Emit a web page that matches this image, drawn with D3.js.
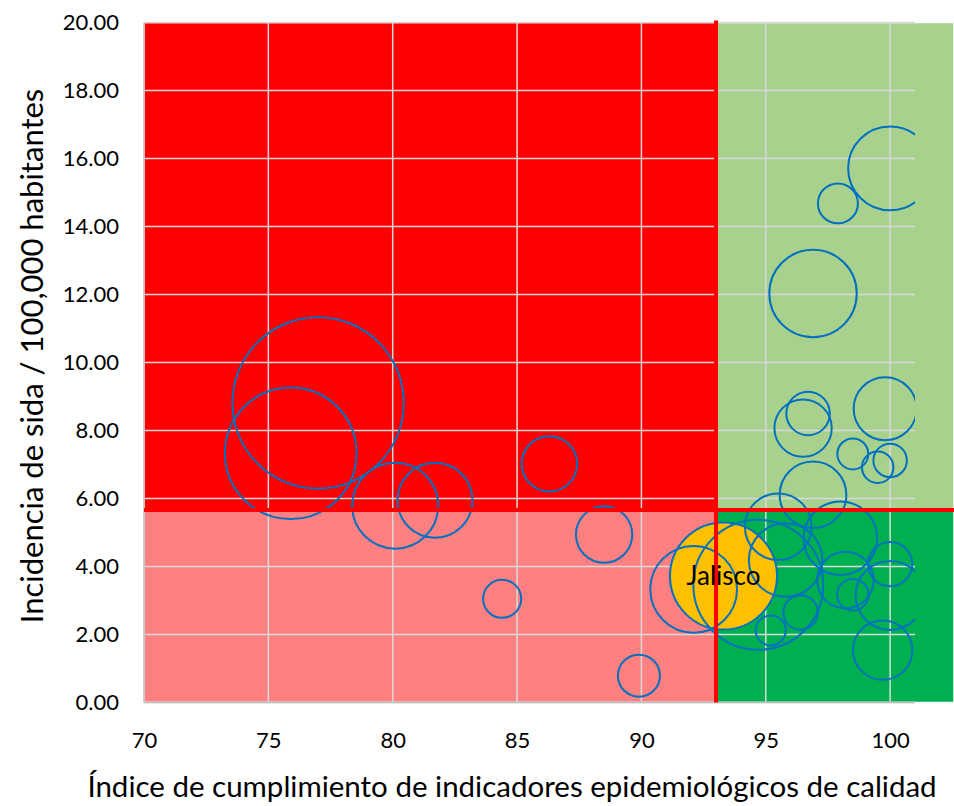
<!DOCTYPE html>
<html>
<head>
<meta charset="utf-8">
<script src="https://cdn.jsdelivr.net/npm/d3@7"></script>
<style>
  body { margin: 0; background: #fff; }
  text { font-family: Lato, "Open Sans", sans-serif; fill: #000; }
</style>
</head>
<body>
<div id="chart"></div>
<script>

// data (one entry per state, Jalisco first)
const estado     = ["Jalisco", "", "", "", "", "", "", "", "", "", "", "", "", "", "", "", "", "", "", "", "", "", "", "", "", "", "", "", "", "", ""];
const indice     = [93.3, 77.0, 75.9, 80.1, 81.7, 86.3, 88.5, 84.4, 89.9, 92.1,
                    100.0, 97.9, 96.9, 99.8, 96.7, 96.5, 98.5, 99.5, 100.0, 96.9,
                    94.7, 95.5, 95.8, 98.0, 98.2, 98.5, 100.0, 100.0, 99.7, 96.4, 95.2];
const incidencia = [3.72, 8.81, 7.33, 5.79, 5.95, 7.02, 4.94, 3.05, 0.79, 3.33,
                    15.71, 14.68, 12.03, 8.64, 8.50, 8.07, 7.31, 6.92, 7.12, 6.11,
                    3.46, 5.17, 4.19, 4.83, 3.60, 3.17, 4.07, 3.15, 1.54, 2.65, 2.12];
const tamano     = [6.24, 16.0, 9.43, 4.03, 3.06, 1.67, 1.73, 0.79, 0.96, 4.10,
                    3.84, 0.87, 4.16, 2.16, 1.03, 1.79, 0.52, 0.54, 0.61, 2.42,
                    9.20, 2.42, 2.95, 2.95, 1.74, 0.54, 1.07, 2.59, 1.92, 0.65, 0.49];

const xTicks = [70, 75, 80, 85, 90, 95, 100];
const yTicks = [0, 2, 4, 6, 8, 10, 12, 14, 16, 18, 20];

// quadrant thresholds
const umbralIndice = 93;
const umbralIncidencia = 5.66;

const xTitle = "Índice de cumplimiento de indicadores epidemiológicos de calidad";
const yTitle = "Incidencia de sida / 100,000 habitantes";

// styles
const colors = {
    altoBajo: "#FF0000",     // top left
    altoAlto: "#A9D18E",     // top right
    bajoBajo: "#FF8080",     // bottom left
    bajoAlto: "#00B050",     // bottom right
    linea: "#FF0000",
    grid: "#D9D9D9",
    axis: "#BFBFBF",
    bubble: "#0070C0",
    destacado: "#FFC000"
};

const svgWidth = 954, svgHeight = 806;
const margin = {top: 22.5, right: 39, bottom: 103.5, left: 144};
const width = svgWidth - margin.left - margin.right;
const height = svgHeight - margin.top - margin.bottom;

const svg = d3.select("#chart").append("svg")
    .attr("width", svgWidth)
    .attr("height", svgHeight);

const g = svg.append("g")
    .attr("transform", `translate(${margin.left}, ${margin.top})`);

// scales
const x = d3.scaleLinear().domain([70, 101]).range([0, width]);
const y = d3.scaleLinear().domain([0, 20]).range([height, 0]);
const r = d3.scaleSqrt().domain([0, 16]).range([0, 85.7]);

// background quadrants (right side runs to the edge of the picture)
const bgRight = svgWidth - margin.left;
const quads = [
    {x0: x(70), x1: x(umbralIndice), y0: y(20), y1: y(umbralIncidencia), c: colors.altoBajo},
    {x0: x(umbralIndice), x1: bgRight, y0: y(20), y1: y(umbralIncidencia), c: colors.altoAlto},
    {x0: x(70), x1: x(umbralIndice), y0: y(umbralIncidencia), y1: y(0), c: colors.bajoBajo},
    {x0: x(umbralIndice), x1: bgRight, y0: y(umbralIncidencia), y1: y(0), c: colors.bajoAlto}
];

g.selectAll(".quad")
    .data(quads)
    .enter().append("rect")
    .attr("class", "quad")
    .attr("x", d => d.x0)
    .attr("y", d => d.y0)
    .attr("width", d => d.x1 - d.x0)
    .attr("height", d => d.y1 - d.y0)
    .attr("fill", d => d.c)
    .attr("stroke", "#fff")
    .attr("stroke-width", 1.5);

// gridlines
g.selectAll(".hgrid")
    .data(yTicks)
    .enter().append("line")
    .attr("x1", 0).attr("x2", width)
    .attr("y1", d => y(d)).attr("y2", d => y(d))
    .attr("stroke", colors.grid)
    .attr("stroke-width", 1.5);

g.selectAll(".vgrid")
    .data(xTicks.slice(1))
    .enter().append("line")
    .attr("x1", d => x(d)).attr("x2", d => x(d))
    .attr("y1", 0).attr("y2", height)
    .attr("stroke", colors.grid)
    .attr("stroke-width", 1.5);

// axis lines
g.append("line")
    .attr("x1", 0).attr("x2", width)
    .attr("y1", height).attr("y2", height)
    .attr("stroke", colors.axis).attr("stroke-width", 1.5);
g.append("line")
    .attr("x1", 0).attr("x2", 0)
    .attr("y1", 0).attr("y2", height)
    .attr("stroke", colors.axis).attr("stroke-width", 1.5);

// bubbles
g.append("clipPath").attr("id", "plot-clip")
    .append("rect")
    .attr("width", width)
    .attr("height", height);

const data = indice.map((v, i) => ({
    name: estado[i],
    x: v,
    y: incidencia[i],
    size: tamano[i]
}));

g.append("g")
    .attr("clip-path", "url(#plot-clip)")
    .selectAll(".bubble")
    .data(data)
    .enter().append("circle")
    .attr("class", "bubble")
    .attr("cx", d => x(d.x))
    .attr("cy", d => y(d.y))
    .attr("r", d => r(d.size))
    .attr("fill", d => d.name === "Jalisco" ? colors.destacado : "none")
    .attr("stroke", colors.bubble)
    .attr("stroke-width", 2);

// threshold lines
g.append("line")
    .attr("x1", x(umbralIndice)).attr("x2", x(umbralIndice))
    .attr("y1", y(20) - 2).attr("y2", y(0))
    .attr("stroke", colors.linea)
    .attr("stroke-width", 4);
g.append("line")
    .attr("x1", 0).attr("x2", bgRight)
    .attr("y1", y(umbralIncidencia)).attr("y2", y(umbralIncidencia))
    .attr("stroke", colors.linea)
    .attr("stroke-width", 4);

// bubble label
g.selectAll(".label")
    .data(data.filter(d => d.name !== ""))
    .enter().append("text")
    .attr("class", "label")
    .attr("x", d => x(d.x))
    .attr("y", d => y(d.y))
    .attr("dy", "0.35em")
    .attr("text-anchor", "middle")
    .style("font-size", "26px")
    .text(d => d.name);

// axes
const yAxis = d3.axisLeft(y)
    .tickValues(yTicks)
    .tickSize(0)
    .tickPadding(25)
    .tickFormat(d3.format(".2f"));

g.append("g")
    .attr("class", "y-axis")
    .call(yAxis)
    .call(a => a.select(".domain").remove())
    .selectAll("text")
    .style("font-size", "22px");

const xAxis = d3.axisBottom(x)
    .tickValues(xTicks)
    .tickSize(0)
    .tickPadding(30);

g.append("g")
    .attr("class", "x-axis")
    .attr("transform", `translate(0, ${height})`)
    .call(xAxis)
    .call(a => a.select(".domain").remove())
    .selectAll("text")
    .style("font-size", "22px");

// axis titles
svg.append("text")
    .attr("x", 512)
    .attr("y", 797)
    .attr("text-anchor", "middle")
    .style("font-size", "29.5px")
    .text(xTitle);

svg.append("text")
    .attr("transform", "translate(43, 356) rotate(-90)")
    .attr("text-anchor", "middle")
    .style("font-size", "31px")
    .text(yTitle);

</script>
</body>
</html>
